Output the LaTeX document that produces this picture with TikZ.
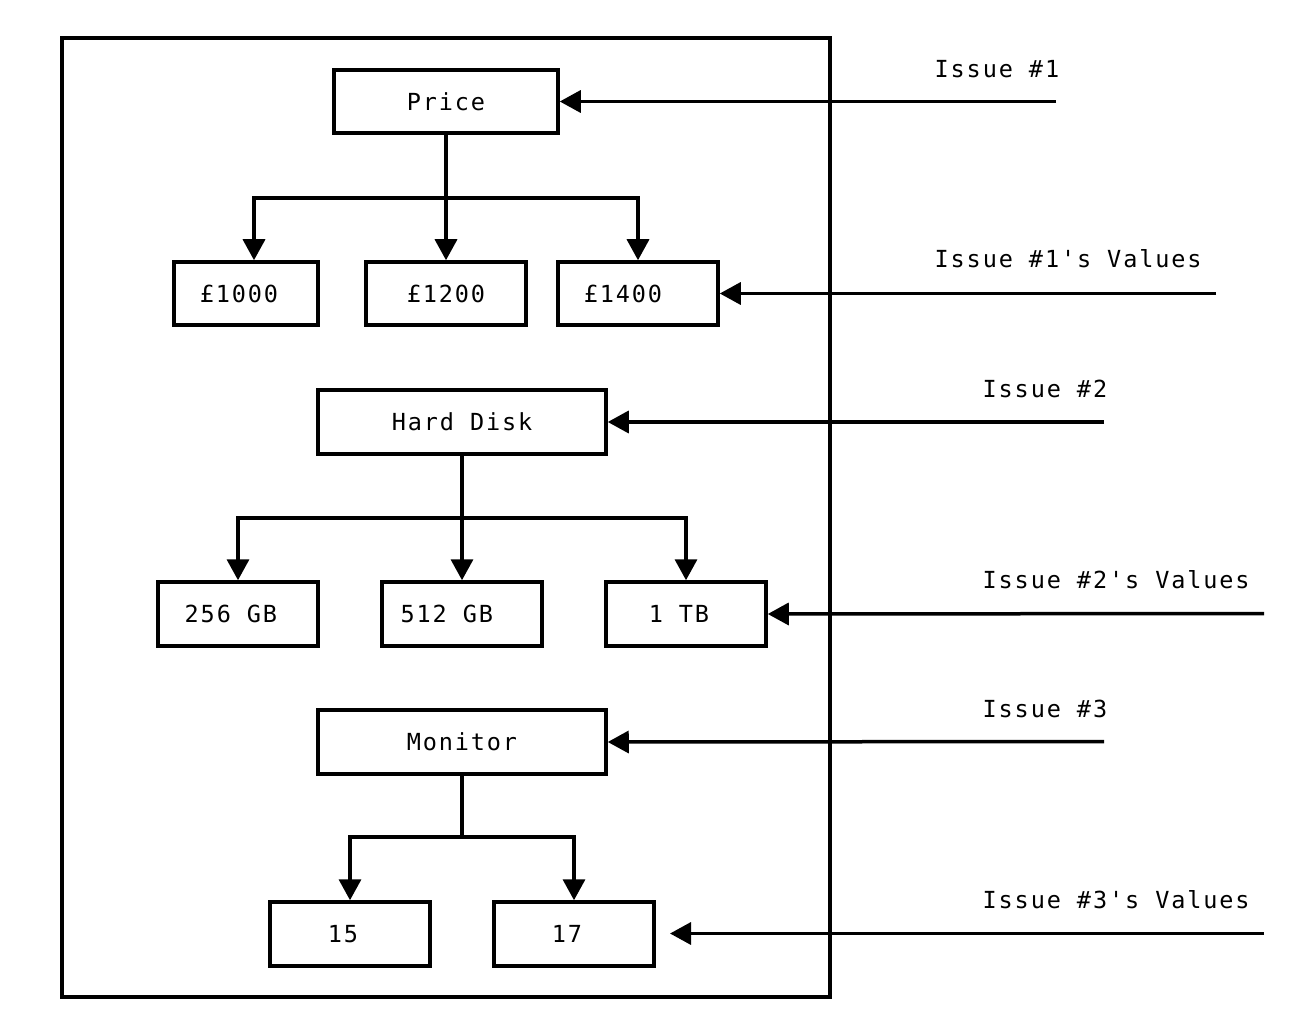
\documentclass[tikz,border=0pt]{standalone}
\usepackage{fontspec}
\setmonofont[LetterSpace=8]{DejaVu Sans Mono}
\usetikzlibrary{arrows.meta}
\begin{document}
\begin{tikzpicture}[x=1pt,y=-1pt,
  txt/.style={font=\ttfamily\fontsize{23.5}{28}\selectfont},
  box/.style={draw, line width=3.5pt, minimum width=#1, minimum height=63pt, inner sep=0pt, txt},
  wire/.style={line width=3.5pt},
  conn/.style={line width=3.5pt, -{Triangle[length=21pt,width=22pt]}},
  lbl/.style={anchor=base west, inner sep=0pt, txt}]
\useasboundingbox (0,0) rectangle (1314,1032);
% outer frame
\draw[line width=3.5pt] (62,38) rectangle (830,997);
% issue 1
\node[box=224pt] (price) at (446,101.5) {Price};
\node[box=144pt] (p1) at (246,293.5) {£1000\phantom{0}};
\node[box=160pt] (p2) at (446,293.5) {£1200};
\node[box=160pt] (p3) at (638,293.5) {£1400\phantom{00}};
\coordinate (pj) at (446,198);
\draw[wire] (price.south) -- (pj);
\draw[conn] (pj) -| ([xshift=8pt]p1.north);
\draw[conn] (pj) -- (p2.north);
\draw[conn] (pj) -| (p3.north);
% issue 2
\node[box=288pt, minimum height=64pt] (disk) at (462,422) {Hard Disk};
\node[box=160pt, minimum height=64pt] (d1) at (238,614) {256 GB\phantom{0}};
\node[box=160pt, minimum height=64pt] (d2) at (462,614) {512 GB\phantom{00}};
\node[box=160pt, minimum height=64pt] (d3) at (686,614) {1 TB\phantom{0}};
\coordinate (dj) at (462,518);
\draw[wire] (disk.south) -- (dj);
\draw[conn] (dj) -| (d1.north);
\draw[conn] (dj) -- (d2.north);
\draw[conn] (dj) -| (d3.north);
% issue 3
\node[box=288pt, minimum height=64pt] (mon) at (462,742) {Monitor};
\node[box=160pt, minimum height=64pt] (m1) at (350,934) {15\phantom{0}};
\node[box=160pt, minimum height=64pt] (m2) at (574,934) {17\phantom{0}};
\coordinate (mj) at (462,837);
\draw[wire] (mon.south) -- (mj);
\draw[conn] (mj) -| (m1.north);
\draw[conn] (mj) -| (m2.north);
% right side annotations
\coordinate (s1) at (1056,101.5);
\coordinate (s2) at (1216,293.5);
\coordinate (s3) at (1104,422);
\coordinate (s4) at (1264,613.5);
\coordinate (s5) at (1104,741.5);
\coordinate (s6) at (1264,933.5);
\coordinate (e6) at (670,933.5);
\draw[conn] (s1) -- (price.east);
\draw[conn] (s2) -- (p3.east);
\draw[conn] (s3) -- (disk.east);
\draw[conn] (s4) -- (d3.east);
\draw[conn] (s5) -- (mon.east);
\draw[conn] (s6) -- (e6);
\node[lbl] (l1) at (934.5,77.5) {Issue \#1};
\node[lbl] (l2) at (934.5,268) {Issue \#1's Values};
\node[lbl] (l3) at (982.5,397.5) {Issue \#2};
\node[lbl] (l4) at (982.5,588.5) {Issue \#2's Values};
\node[lbl] (l5) at (982.5,717.5) {Issue \#3};
\node[lbl] (l6) at (982.5,908.5) {Issue \#3's Values};
\end{tikzpicture}
\end{document}
